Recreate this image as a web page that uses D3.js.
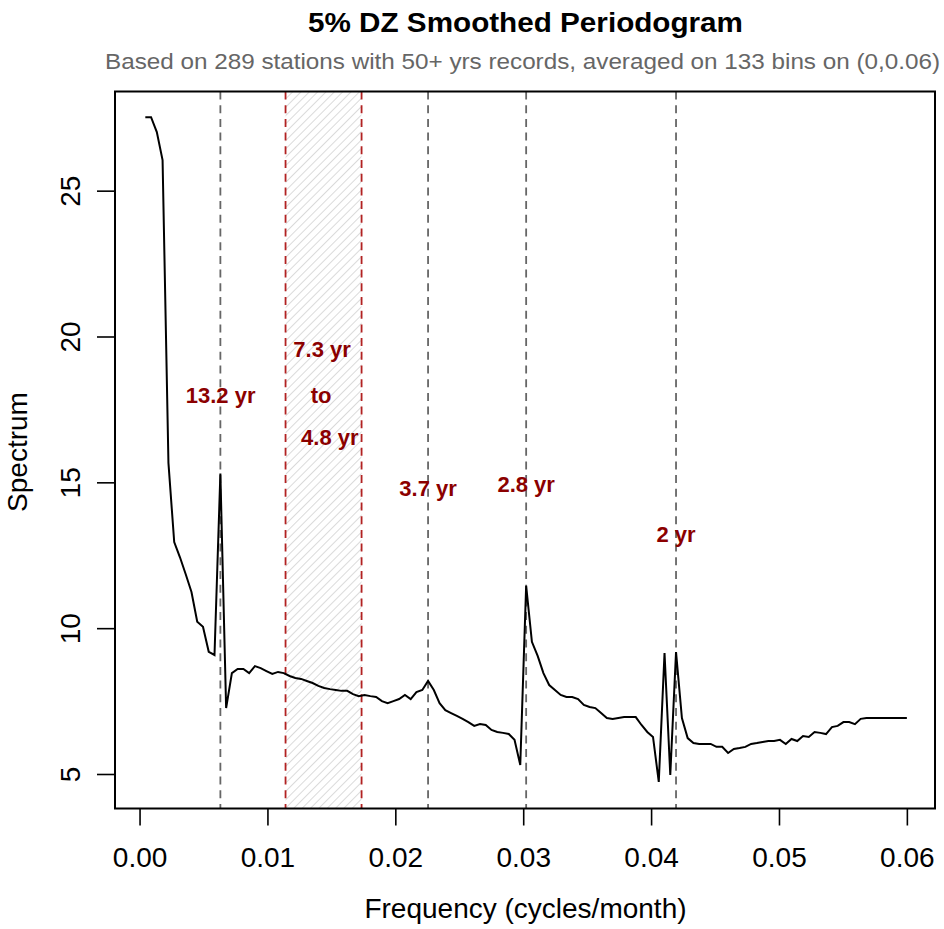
<!DOCTYPE html>
<html>
<head>
<meta charset="utf-8">
<script src="https://cdn.jsdelivr.net/npm/d3@7"></script>
<style>
  html, body { margin: 0; padding: 0; background: #fff; }
  svg { display: block; }
  text { font-family: "Liberation Sans", Arial, Helvetica, sans-serif; }
</style>
</head>
<body>
<svg id="chart" width="944" height="929"></svg>
<script>
// ---------- data ----------
const freq = [
  0.00045,0.00090,0.00135,0.00180,0.00226,0.00271,0.00316,0.00361,0.00406,0.00451,
  0.00496,0.00541,0.00586,0.00632,0.00677,0.00722,0.00767,0.00812,0.00857,0.00902,
  0.00947,0.00992,0.01038,0.01083,0.01128,0.01173,0.01218,0.01263,0.01308,0.01353,
  0.01398,0.01444,0.01489,0.01534,0.01579,0.01624,0.01669,0.01714,0.01759,0.01805,
  0.01850,0.01895,0.01940,0.01985,0.02030,0.02075,0.02120,0.02165,0.02211,0.02256,
  0.02301,0.02346,0.02391,0.02436,0.02481,0.02526,0.02571,0.02617,0.02662,0.02707,
  0.02752,0.02797,0.02842,0.02887,0.02932,0.02977,0.03023,0.03068,0.03113,0.03158,
  0.03203,0.03248,0.03293,0.03338,0.03383,0.03429,0.03474,0.03519,0.03564,0.03609,
  0.03654,0.03699,0.03744,0.03789,0.03835,0.03880,0.03925,0.03970,0.04015,0.04060,
  0.04105,0.04150,0.04195,0.04241,0.04286,0.04331,0.04376,0.04421,0.04466,0.04511,
  0.04556,0.04602,0.04647,0.04692,0.04737,0.04782,0.04827,0.04872,0.04917,0.04962,
  0.05008,0.05053,0.05098,0.05143,0.05188,0.05233,0.05278,0.05323,0.05368,0.05414,
  0.05459,0.05504,0.05549,0.05594,0.05639,0.05684,0.05729,0.05774,0.05820,0.05865,
  0.05910,0.05955,0.06000
];
const spectrum = [
  27.52,27.52,27.01,26.05,15.66,12.95,12.43,11.85,11.24,10.22,
  10.05, 9.19, 9.08,15.30, 7.26, 8.46, 8.60, 8.60, 8.46, 8.70,
   8.63, 8.53, 8.43, 8.50, 8.46, 8.36, 8.29, 8.26, 8.19, 8.12,
   8.02, 7.95, 7.91, 7.88, 7.85, 7.85, 7.74, 7.67, 7.71, 7.67,
   7.64, 7.50, 7.43, 7.50, 7.57, 7.71, 7.57, 7.81, 7.88, 8.19,
   7.88, 7.43, 7.19, 7.09, 6.99, 6.89, 6.78, 6.65, 6.71, 6.68,
   6.51, 6.44, 6.41, 6.37, 6.17, 5.31,11.45, 9.53, 9.05, 8.46,
   8.05, 7.88, 7.71, 7.64, 7.64, 7.57, 7.37, 7.30, 7.26, 7.09,
   6.92, 6.89, 6.92, 6.95, 6.95, 6.95, 6.68, 6.44, 6.27, 4.73,
   9.15, 4.97, 9.18, 6.92, 6.23, 6.06, 6.03, 6.03, 6.03, 5.93,
   5.93, 5.72, 5.86, 5.89, 5.93, 6.03, 6.06, 6.10, 6.13, 6.13,
   6.17, 6.03, 6.20, 6.13, 6.30, 6.27, 6.44, 6.41, 6.37, 6.61,
   6.65, 6.78, 6.78, 6.71, 6.89, 6.92, 6.92, 6.92, 6.92, 6.92,
   6.92, 6.92, 6.92
];
const peakFreqs = [0.00632, 0.02256, 0.03023, 0.04195];   // gray dashed lines
const bandFreqs = [0.011416, 0.017361];                   // 7.3 yr to 4.8 yr band
const annoText = ["13.2 yr", "7.3 yr", "to", "4.8 yr", "3.7 yr", "2.8 yr", "2 yr"];
const annoFreq = [0.00634, 0.01427, 0.01420, 0.01488, 0.02256, 0.03023, 0.04195];
const annoValue = [17.98, 19.55, 17.98, 16.52, 14.80, 14.92, 13.22];
const xTicks = [0.00, 0.01, 0.02, 0.03, 0.04, 0.05, 0.06];
const yTicks = [5, 10, 15, 20, 25];
const title = "5% DZ Smoothed Periodogram";
const subtitle = "Based on 289 stations with 50+ yrs records, averaged on 133 bins on (0,0.06)";
const xLabel = "Frequency (cycles/month)";
const yLabel = "Spectrum";

// ---------- layout ----------
const plot = { left: 115, right: 935, top: 91.5, bottom: 808.5 };
const svg = d3.select("#chart");

const x = d3.scaleLinear().domain([-0.00192, 0.0622]).range([plot.left, plot.right]);
const y = d3.scaleLinear().domain([3.817, 28.40]).range([plot.bottom, plot.top]);

// hatch pattern
const defs = svg.append("defs");
const pat = defs.append("pattern")
  .attr("id", "hatch")
  .attr("patternUnits", "userSpaceOnUse")
  .attr("width", 5.9).attr("height", 10)
  .attr("patternTransform", "rotate(45)");
pat.append("line")
  .attr("x1", 0).attr("y1", -2).attr("x2", 0).attr("y2", 12)
  .attr("stroke", "#c2c2c2").attr("stroke-width", 1.2);

// band
svg.append("rect")
  .attr("x", x(bandFreqs[0]))
  .attr("y", plot.top)
  .attr("width", x(bandFreqs[1]) - x(bandFreqs[0]))
  .attr("height", plot.bottom - plot.top)
  .attr("fill", "url(#hatch)");

svg.selectAll("line.band").data(bandFreqs).enter().append("line")
  .attr("class", "band")
  .attr("x1", d => x(d)).attr("x2", d => x(d))
  .attr("y1", plot.top).attr("y2", plot.bottom)
  .attr("stroke", "#b22222").attr("stroke-width", 1.8)
  .attr("stroke-dasharray", "8,5.7");

svg.selectAll("line.peak").data(peakFreqs).enter().append("line")
  .attr("class", "peak")
  .attr("x1", d => x(d)).attr("x2", d => x(d))
  .attr("y1", plot.top).attr("y2", plot.bottom)
  .attr("stroke", "#666").attr("stroke-width", 1.8)
  .attr("stroke-dasharray", "8,5.7");

// curve
const pts = freq.map((f, i) => [f, spectrum[i]]);
svg.append("path")
  .datum(pts)
  .attr("fill", "none")
  .attr("stroke", "#000")
  .attr("stroke-width", 2)
  .attr("stroke-linejoin", "miter")
  .attr("d", d3.line().x(d => x(d[0])).y(d => y(d[1])));

// annotations
svg.selectAll("text.anno").data(annoText).enter().append("text")
  .attr("class", "anno")
  .attr("x", (d, i) => x(annoFreq[i]))
  .attr("y", (d, i) => y(annoValue[i]) + 7.5)
  .attr("text-anchor", "middle")
  .attr("font-size", 22)
  .attr("font-weight", "bold")
  .attr("fill", "#8b0000")
  .text(d => d);

// axes
const xAxis = svg.append("g")
  .attr("transform", `translate(0,${plot.bottom})`)
  .call(d3.axisBottom(x).tickValues(xTicks).tickFormat(d3.format(".2f")).tickSize(17).tickSizeOuter(0));
xAxis.select(".domain").remove();
xAxis.selectAll(".tick line").attr("stroke", "#000").attr("stroke-width", 1.6);
xAxis.selectAll(".tick text")
  .attr("y", 58.5).attr("dy", 0)
  .attr("font-size", 28)
  .attr("fill", "#000")
  .style("font-family", "'Liberation Sans', Arial, sans-serif");

const yAxis = svg.append("g")
  .attr("transform", `translate(${plot.left},0)`)
  .call(d3.axisLeft(y).tickValues(yTicks).tickFormat(d3.format("d")).tickSize(18).tickSizeOuter(0));
yAxis.select(".domain").remove();
yAxis.selectAll(".tick line").attr("stroke", "#000").attr("stroke-width", 1.6);
yAxis.selectAll(".tick text")
  .attr("x", 0).attr("dy", 0)
  .attr("transform", "translate(-35,0) rotate(-90)")
  .attr("text-anchor", "middle")
  .attr("font-size", 28)
  .attr("fill", "#000")
  .style("font-family", "'Liberation Sans', Arial, sans-serif");

// box
svg.append("rect")
  .attr("x", plot.left).attr("y", plot.top)
  .attr("width", plot.right - plot.left)
  .attr("height", plot.bottom - plot.top)
  .attr("fill", "none").attr("stroke", "#000").attr("stroke-width", 2);

// titles
svg.append("text")
  .attr("x", 525.5).attr("y", 32)
  .attr("text-anchor", "middle")
  .attr("font-size", 27).attr("font-weight", "bold")
  .attr("fill", "#000")
  .attr("textLength", 435)
  .attr("lengthAdjust", "spacingAndGlyphs")
  .text(title);

svg.append("text")
  .attr("x", 522.5).attr("y", 68.5)
  .attr("text-anchor", "middle")
  .attr("font-size", 22)
  .attr("fill", "#666")
  .attr("textLength", 835)
  .attr("lengthAdjust", "spacingAndGlyphs")
  .text(subtitle);

svg.append("text")
  .attr("x", 525.5).attr("y", 918)
  .attr("text-anchor", "middle")
  .attr("font-size", 28)
  .attr("fill", "#000")
  .text(xLabel);

svg.append("text")
  .attr("transform", "translate(27,452) rotate(-90)")
  .attr("text-anchor", "middle")
  .attr("font-size", 28)
  .attr("fill", "#000")
  .text(yLabel);
</script>
</body>
</html>
